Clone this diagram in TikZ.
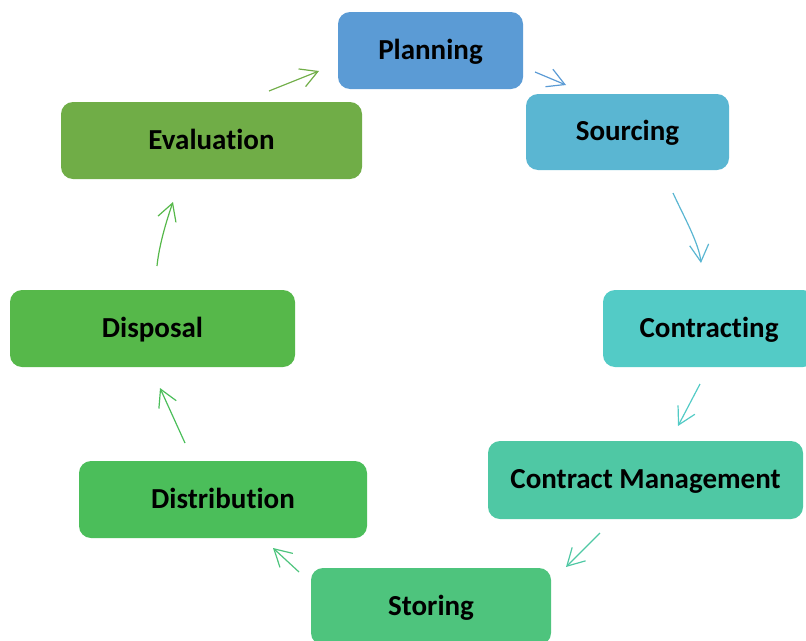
\documentclass[tikz,border=0pt]{standalone}
\usepackage{fontspec}
\setmainfont{Carlito}[Ligatures={NoCommon,NoRequired,NoContextual}]
\usetikzlibrary{arrows.meta}
\definecolor{cPlan}{HTML}{5B9BD5}
\definecolor{cSrc}{HTML}{5AB6D2}
\definecolor{cCon}{HTML}{53CBC6}
\definecolor{cCM}{HTML}{4FC8A4}
\definecolor{cSto}{HTML}{4EC47D}
\definecolor{cDis}{HTML}{4BBE5A}
\definecolor{cDsp}{HTML}{56B84A}
\definecolor{cEva}{HTML}{70AD47}
\tikzset{
  stage/.style={rectangle, rounded corners=12pt, inner sep=0pt, draw=none,
    minimum height=77pt, text height=21pt, text depth=4pt,
    font=\fontsize{29}{34}\selectfont\bfseries, text=black},
  flow/.style={line width=1.2pt, -{Straight Barb[length=17pt,width=19pt,line width=1.2pt]}}
}
\begin{document}
\begin{tikzpicture}[x=1pt,y=-1pt]
\useasboundingbox (0,0) rectangle (806,640);
\clip (0,0) rectangle (806,640);
\node[stage, fill=cPlan, minimum width=185pt] (plan) at (430.5,50.5) {Planning};
\node[stage, fill=cSrc, minimum width=203pt, minimum height=76pt] (src) at (627.5,132) {Sourcing};
\node[stage, fill=cCon, minimum width=212pt] (con) at (709,328.5) {Contracting};
\node[stage, fill=cCM, minimum width=315pt, minimum height=78pt] (cm) at (645.5,480) {Contract Management};
\node[stage, fill=cSto, minimum width=240pt] (sto) at (431,606.5) {Storing};
\node[stage, fill=cDis, minimum width=288pt] (dis) at (223,499.5) {Distribution};
\node[stage, fill=cDsp, minimum width=285pt] (dsp) at (152.5,328.5) {Disposal};
\node[stage, fill=cEva, minimum width=301pt] (eva) at (211.5,140.5) {Evaluation};
% arrow end points
\coordinate (a1s) at (269,91);  \coordinate (a1e) at (319,71);
\coordinate (a2s) at (535,72);  \coordinate (a2e) at (566,85);
\coordinate (a3s) at (673,193); \coordinate (a3e) at (701,263);
\coordinate (a4s) at (700,384); \coordinate (a4e) at (678,426);
\coordinate (a5s) at (600,533); \coordinate (a5e) at (566,567);
\coordinate (a6s) at (299,572); \coordinate (a6e) at (273,548);
\coordinate (a7s) at (185,443); \coordinate (a7e) at (160,388);
\coordinate (a8s) at (157,266); \coordinate (a8e) at (173,202);
\draw[flow, draw=cEva] (a1s) -- (a1e);
\draw[flow, draw=cPlan] (a2s) -- (a2e);
\draw[flow, draw=cSrc] (a3s) .. controls (683,215) and (699,243) .. (a3e);
\draw[flow, draw=cCon] (a4s) -- (a4e);
\draw[flow, draw=cCM] (a5s) -- (a5e);
\draw[flow, draw=cSto] (a6s) -- (a6e);
\draw[flow, draw=cDis] (a7s) -- (a7e);
\draw[flow, draw=cDsp] (a8s) .. controls (159,246) and (166,222) .. (a8e);
\end{tikzpicture}
\end{document}
